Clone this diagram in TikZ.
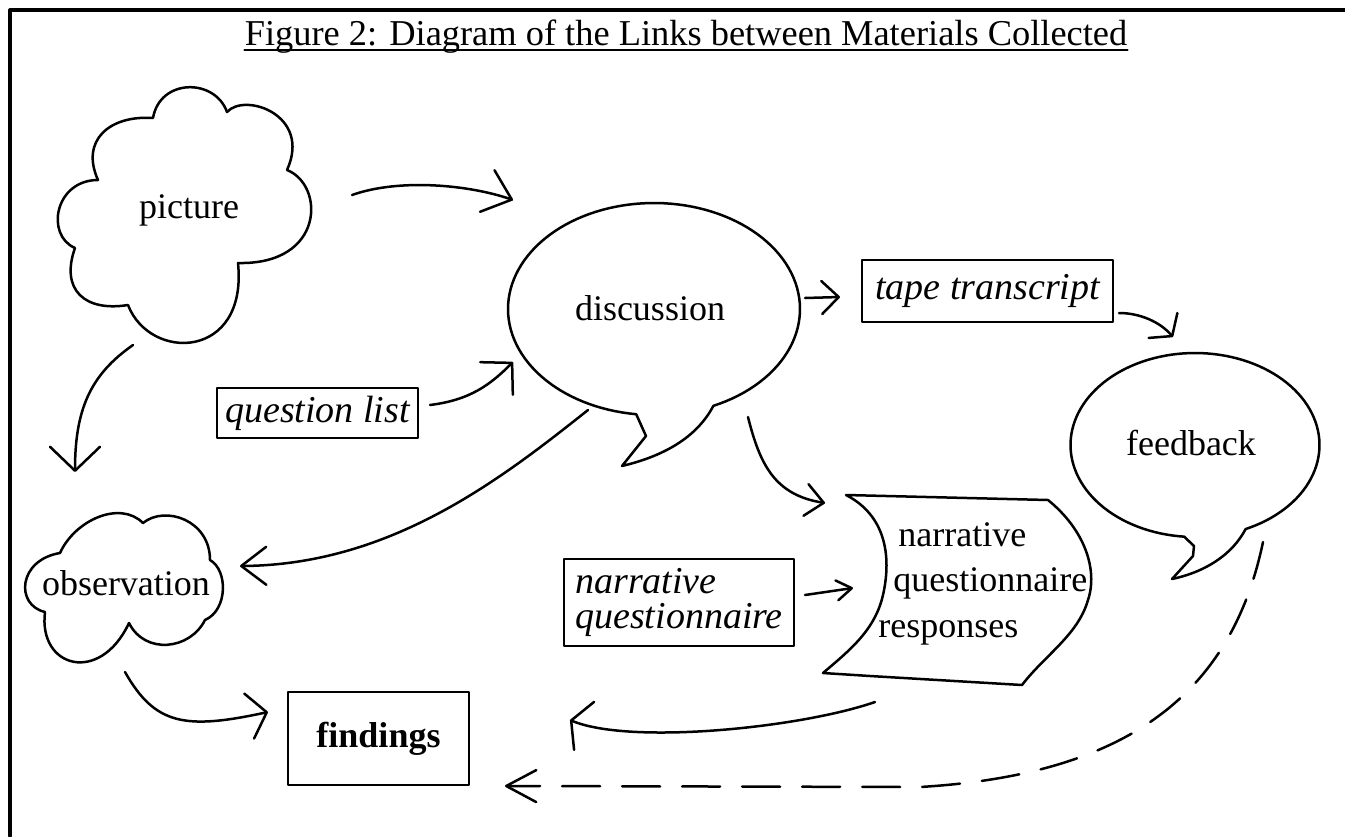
\documentclass[tikz,border=0pt]{standalone}
\usepackage{fontspec}
\setmainfont{Liberation Serif}
\usetikzlibrary{arrows.meta}
\begin{document}
\begin{tikzpicture}[x=0.5pt,y=-0.5pt, line cap=round, line join=round,
  lab/.style={font=\fontsize{18}{22}\selectfont, inner sep=0pt},
  ilab/.style={font=\fontsize{19}{17.5}\selectfont\itshape},
  outline/.style={line width=1.25pt},
  boxed/.style={draw, line width=1.4pt, inner sep=0pt},
  conn/.style={line width=1.25pt},
  barb/.style 2 args={-{Straight Barb[length=#1,width=#2,round]}}]
\useasboundingbox (0,0) rectangle (1345,836);
\fill[white] (0,0) rectangle (1345,836);
% frame
\draw[line width=1.6pt] (1345,10) -- (10,10) -- (10,836);
% title
\node[lab, font=\fontsize{18.2}{22}\selectfont, anchor=base] (title) at (686,45) {Figure 2: Diagram of the Links between Materials Collected};
\draw[line width=1pt] ([yshift=-2.5pt]title.base west) -- ([yshift=-2.5pt]title.base east);

% picture cloud
\draw[outline] (153,118) .. controls (160,78) and (215,78) .. (227,112)
 .. controls (245,92) and (312,115) .. (287,170)
 .. controls (325,185) and (325,265) .. (238,263)
 .. controls (248,360) and (150,362) .. (128,305)
 .. controls (85,312) and (60,290) .. (75,248)
 .. controls (45,235) and (55,180) .. (98,180)
 .. controls (80,140) and (110,115) .. (153,118) -- cycle;
\node[lab, anchor=base] (pic) at (189,218) {picture};

% discussion bubble
\draw[outline] plot[domain=97:426, samples=120] ({654+146*cos(\x)},{309+106*sin(\x)})
  .. controls (698,435) and (668,455) .. (622,466) -- (646,436) -- cycle;
\node[lab, anchor=base] (disc) at (650,320) {discussion};

% feedback bubble
\draw[outline] plot[domain=95:426, samples=120] ({1195+124.5*cos(\x)},{445+92*sin(\x)})
  .. controls (1232,555) and (1205,572) .. (1172,579) -- (1193,556) -- (1194,546) -- cycle;
\node[lab, anchor=base] (feed) at (1191,455) {feedback};

% observation cloud
\draw[outline] (60,553) .. controls (75,520) and (120,500) .. (143,523)
 .. controls (165,505) and (210,520) .. (210,560)
 .. controls (228,570) and (228,610) .. (205,620)
 .. controls (190,650) and (145,655) .. (129,623)
 .. controls (100,685) and (38,668) .. (45,612)
 .. controls (15,605) and (18,560) .. (60,553) -- cycle;
\node[lab, anchor=base] (obs) at (126,595) {observation};

% narrative questionnaire responses shape
\draw[outline] (846,495) -- (1048,500)
 .. controls (1085,530) and (1098,570) .. (1088,600)
 .. controls (1078,635) and (1045,655) .. (1022,685)
 -- (870,676) -- (823,673)
 .. controls (850,650) and (875,630) .. (883,595)
 .. controls (892,555) and (885,515) .. (846,495) -- cycle;
\node[lab, align=left, anchor=north west, font=\fontsize{18}{22.75}\selectfont] (resp) at (878,522)
  {\hspace*{10pt}narrative\\\hspace*{7.5pt}questionnaire\\responses};

% boxes
\node[boxed, ilab, minimum width=100.5pt, minimum height=25pt] (qlist) at (317.5,413) {question list};
\node[boxed, ilab, minimum width=125.5pt, minimum height=31pt] (tape) at (987.5,291) {tape transcript};
\node[boxed, ilab, align=left, minimum width=115pt, minimum height=43.5pt] (narrq) at (679,602.5) {narrative\\questionnaire};
\node[boxed, lab, font=\fontsize{18}{22}\selectfont\bfseries, minimum width=90.5pt, minimum height=46.5pt] (find) at (378.5,738.5) {findings};

% connector end points
\coordinate (picOut) at (352,195);   \coordinate (discIn) at (513,200);
\coordinate (discOut) at (805,298);  \coordinate (tapeIn) at (840,297);
\coordinate (qOut) at (430,405);     \coordinate (discIn2) at (513,362);
\coordinate (tapeOut) at (1119,313); \coordinate (feedIn) at (1173,337);
\coordinate (discOut2) at (748,417); \coordinate (respIn) at (825,503);
\coordinate (discOut3) at (588,410); \coordinate (obsIn) at (240,566);
\coordinate (picOut2) at (133,345);  \coordinate (obsIn2) at (75,472);
\coordinate (narrqOut) at (805,595); \coordinate (respIn2) at (853,588);
\coordinate (obsOut) at (125,672);   \coordinate (findIn) at (268,712);
\coordinate (respOut) at (875,702);  \coordinate (findIn2) at (570,720);
\coordinate (feedOut) at (1263,542); \coordinate (feedBend) at (920,787);
\coordinate (findIn3) at (505,786);

% connectors
\draw[conn, barb={13pt}{22pt}] (picOut) .. controls (400,178) and (470,185) .. (discIn);
\draw[conn, barb={8.5pt}{16.5pt}] (discOut) -- (tapeIn);
\draw[conn, barb={11pt}{23pt}] (qOut) .. controls (470,400) and (490,385) .. (discIn2);
\draw[conn, barb={7pt}{19pt}] (tapeOut) .. controls (1140,313) and (1160,322) .. (feedIn);
\draw[conn, barb={9pt}{16pt}] (discOut2) .. controls (760,465) and (775,495) .. (respIn);
\draw[conn, barb={12.5pt}{19pt}] (discOut3) .. controls (500,480) and (390,565) .. (obsIn);
\draw[conn, barb={12pt}{25pt}] (picOut2) .. controls (90,375) and (75,410) .. (obsIn2);
\draw[conn, barb={7.5pt}{10pt}] (narrqOut) -- (respIn2);
\draw[conn, barb={9pt}{23pt}] (obsOut) .. controls (155,725) and (185,730) .. (findIn);
\draw[conn, barb={7pt}{26pt}] (respOut) .. controls (800,728) and (630,745) .. (findIn2);
\draw[conn, dash pattern=on 19pt off 11pt, barb={15pt}{16pt}] (feedOut) .. controls (1230,700) and (1120,775) .. (feedBend) -- (findIn3);
\end{tikzpicture}
\end{document}
